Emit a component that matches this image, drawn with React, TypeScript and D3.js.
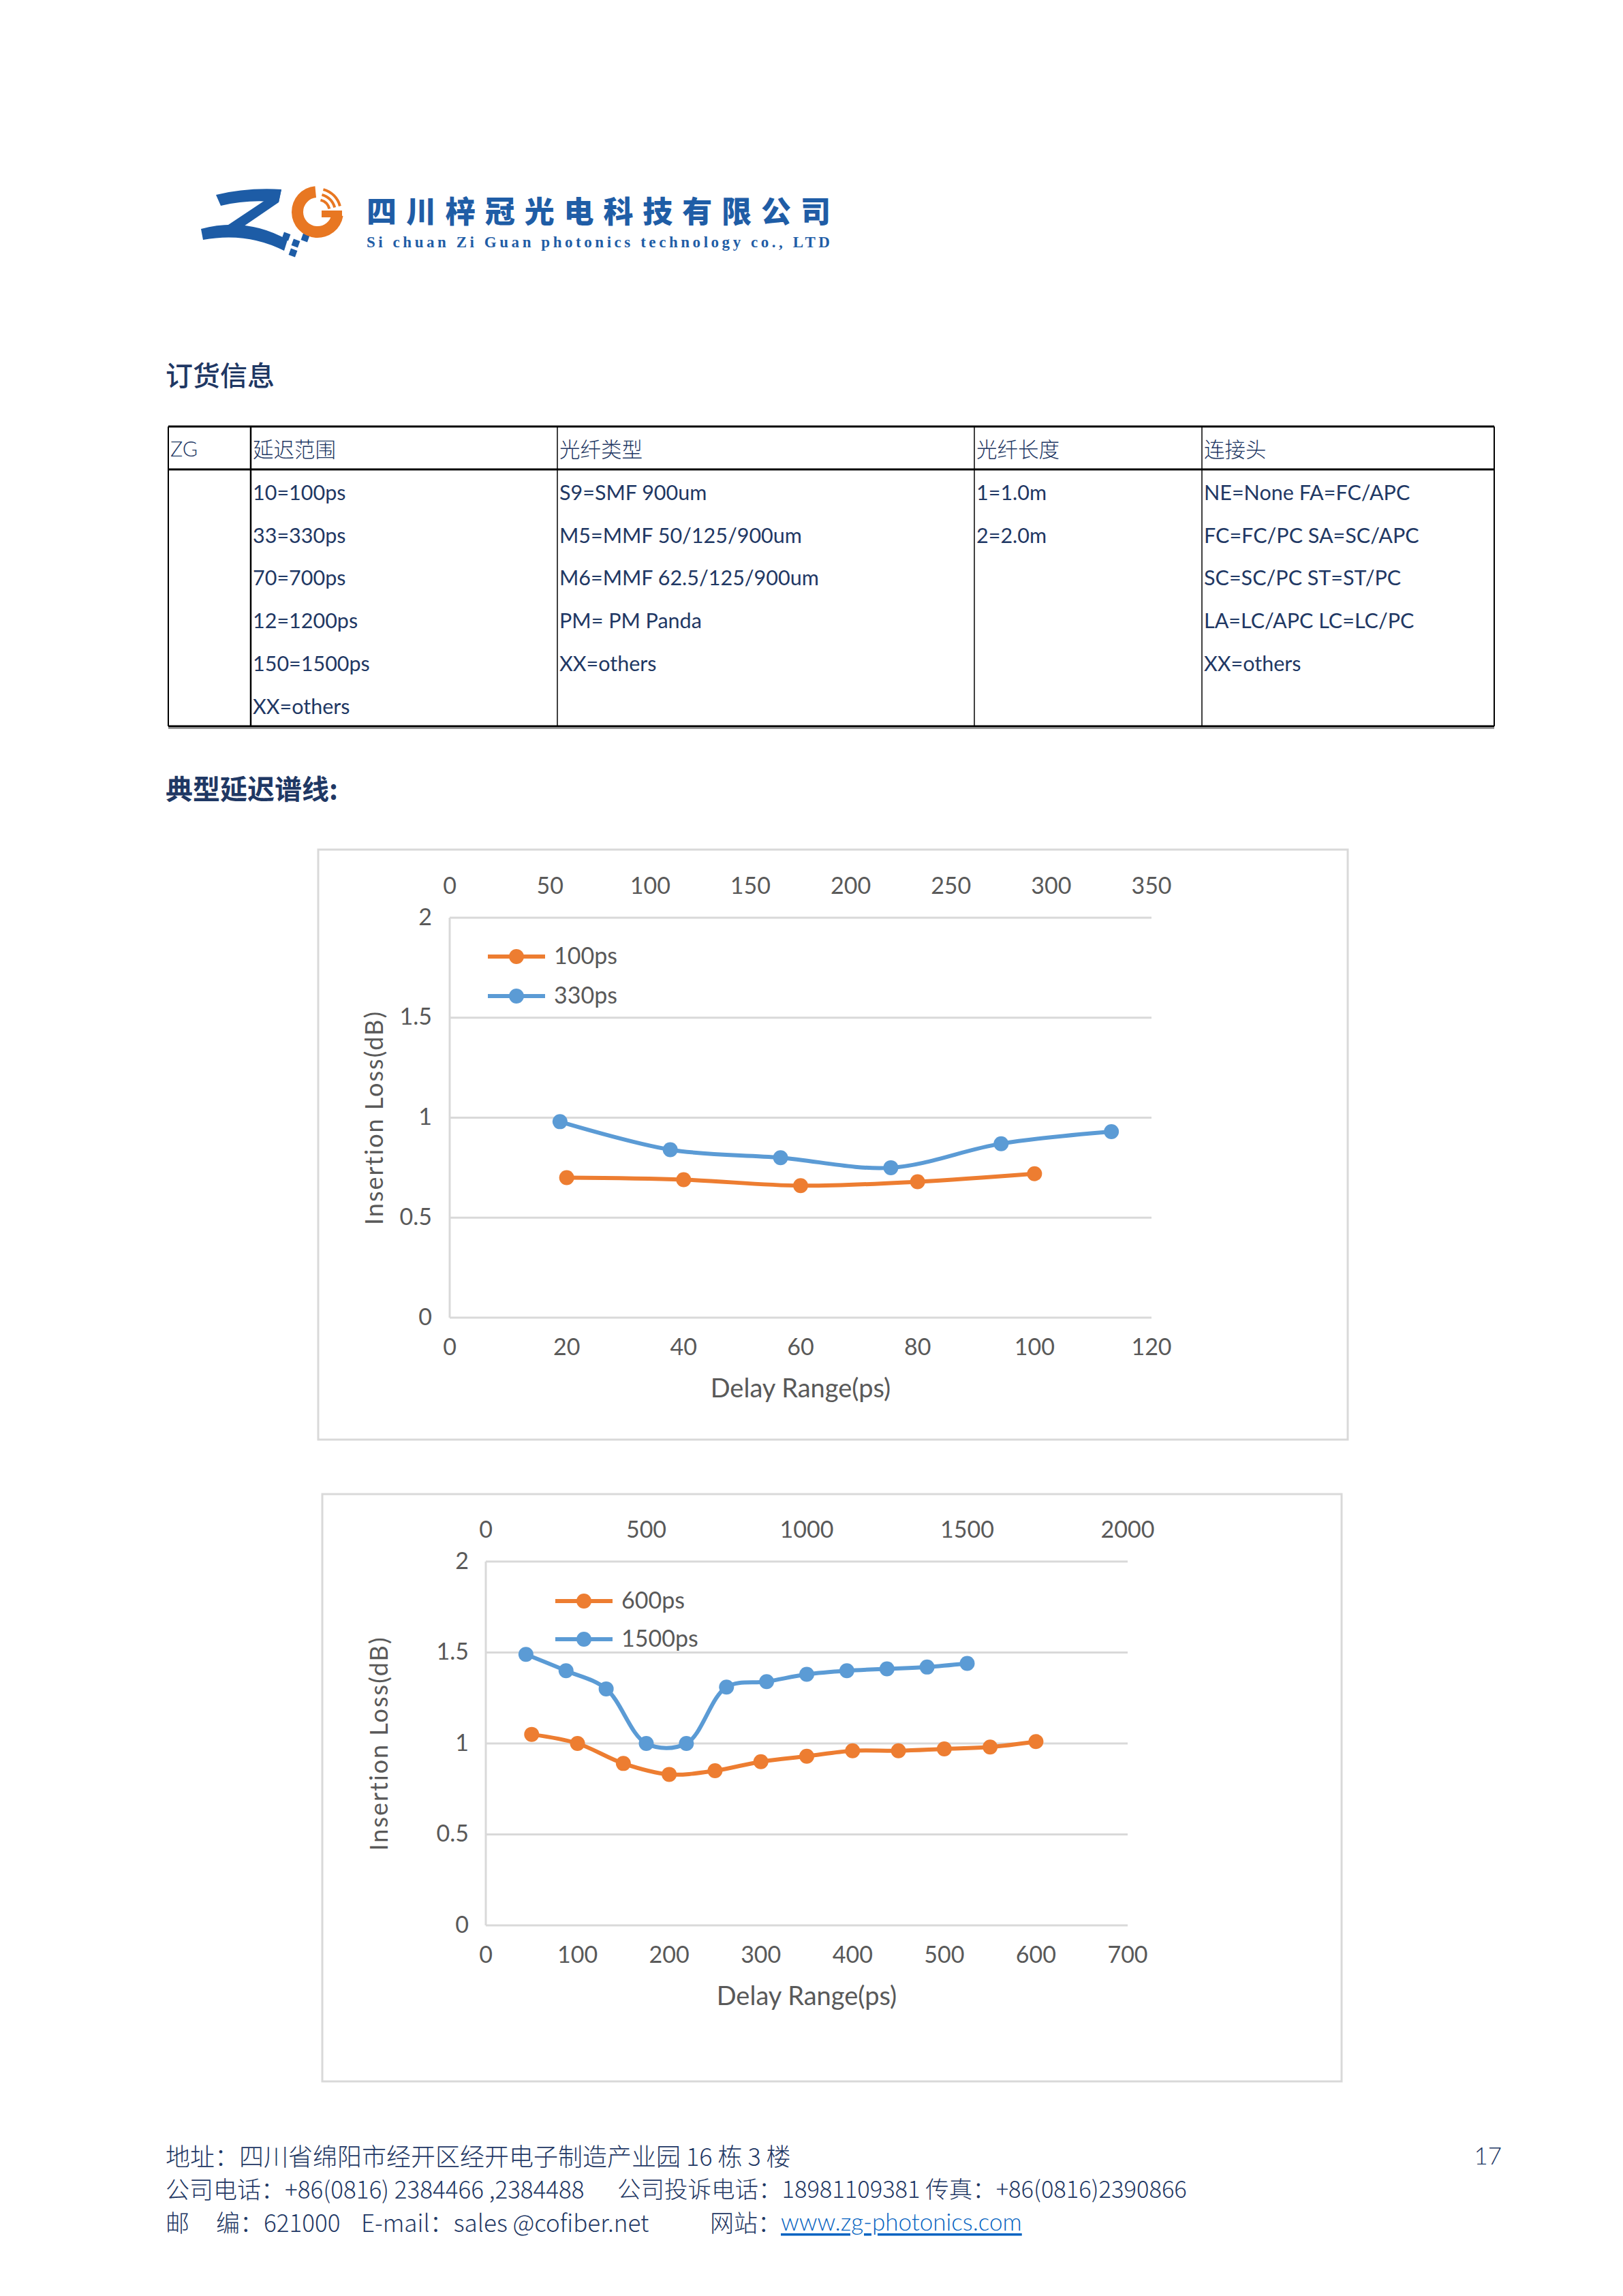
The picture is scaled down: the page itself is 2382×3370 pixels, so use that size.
import * as d3 from 'd3';

const W = 2382;
const H = 3370;

// ---- chart 1 data (bottom axis: 100ps, top axis: 330ps)
const delay100 = [20, 40, 60, 80, 100];
const loss100 = [0.7, 0.69, 0.66, 0.68, 0.72];
const delay330 = [55, 110, 165, 220, 275, 330];
const loss330 = [0.98, 0.84, 0.8, 0.75, 0.87, 0.93];
const bottomTicks1 = [0, 20, 40, 60, 80, 100, 120];
const topTicks1 = [0, 50, 100, 150, 200, 250, 300, 350];

// ---- chart 2 data (bottom axis: 600ps, top axis: 1500ps)
const delay600 = [50, 100, 150, 200, 250, 300, 350, 400, 450, 500, 550, 600];
const loss600 = [1.05, 1.0, 0.89, 0.83, 0.85, 0.9, 0.93, 0.96, 0.96, 0.97, 0.98, 1.01];
const delay1500 = [125, 250, 375, 500, 625, 750, 875, 1000, 1125, 1250, 1375, 1500];
const loss1500 = [1.49, 1.4, 1.3, 1.0, 1.0, 1.31, 1.34, 1.38, 1.4, 1.41, 1.42, 1.44];
const bottomTicks2 = [0, 100, 200, 300, 400, 500, 600, 700];
const topTicks2 = [0, 500, 1000, 1500, 2000];

const yTicks = [0, 0.5, 1, 1.5, 2];

// ---- ordering table
const tableHeader = ['ZG', '延迟范围', '光纤类型', '光纤长度', '连接头'];
const colDelay = ['10=100ps', '33=330ps', '70=700ps', '12=1200ps', '150=1500ps', 'XX=others'];
const colFiber = ['S9=SMF 900um', 'M5=MMF 50/125/900um', 'M6=MMF 62.5/125/900um', 'PM= PM Panda', 'XX=others'];
const colLength = ['1=1.0m', '2=2.0m'];
const colConn = ['NE=None FA=FC/APC', 'FC=FC/PC SA=SC/APC', 'SC=SC/PC ST=ST/PC', 'LA=LC/APC LC=LC/PC', 'XX=others'];

const ORANGE = '#ED7D31';
const BLUE = '#5B9BD5';
const GRID = '#D9D9D9';
const AXTXT = '#595959';
const NAVY = '#1F3864';
const FONT = "Lato, 'Noto Sans CJK SC', sans-serif";
const CJK = "'Noto Sans CJK SC', Lato, sans-serif";

type Series = { name: string; xs: number[]; ys: number[]; color: string; axis: 'bottom' | 'top' };

type ChartProps = {
  frame: [number, number, number, number];
  plot: { left: number; right: number; top: number; bottom: number };
  bottomTicks: number[];
  topTicks: number[];
  series: Series[];
  legend: { x1: number; x2: number; ys: number[] };
  yTitleX: number;
  yLabelGap: number;
};

function Chart({ frame, plot, bottomTicks, topTicks, series, legend, yTitleX, yLabelGap }: ChartProps) {
  const xb = d3.scaleLinear().domain([bottomTicks[0], bottomTicks[bottomTicks.length - 1]]).range([plot.left, plot.right]);
  const xt = d3.scaleLinear().domain([topTicks[0], topTicks[topTicks.length - 1]]).range([plot.left, plot.right]);
  const y = d3.scaleLinear().domain([0, 2]).range([plot.bottom, plot.top]);
  const cx = (plot.left + plot.right) / 2;
  const cy = (plot.top + plot.bottom) / 2;
  const up = 3; // Lato sits a little low with central baseline

  return (
    <g>
      <rect x={frame[0]} y={frame[1]} width={frame[2]} height={frame[3]} fill="#fff" stroke={GRID} strokeWidth={3} />
      {yTicks.map((t) => (
        <g key={t}>
          <line x1={plot.left} x2={plot.right} y1={y(t)} y2={y(t)} stroke={GRID} strokeWidth={3} />
          <text x={plot.left - yLabelGap} y={y(t) - up} textAnchor="end" dominantBaseline="central" fontSize={34} fill={AXTXT} fontFamily={FONT}>
            {d3.format('')(t)}
          </text>
        </g>
      ))}
      <line x1={plot.left} x2={plot.left} y1={plot.top} y2={plot.bottom} stroke={GRID} strokeWidth={3} />
      {bottomTicks.map((t) => (
        <text key={'b' + t} x={xb(t)} y={plot.bottom + 44 - up} textAnchor="middle" dominantBaseline="central" fontSize={34} fill={AXTXT} fontFamily={FONT}>
          {t}
        </text>
      ))}
      {topTicks.map((t) => (
        <text key={'t' + t} x={xt(t)} y={plot.top - 46 - up} textAnchor="middle" dominantBaseline="central" fontSize={34} fill={AXTXT} fontFamily={FONT}>
          {t}
        </text>
      ))}
      {series.map((s) => {
        const sx = s.axis === 'bottom' ? xb : xt;
        const pts: [number, number][] = s.xs.map((v, i) => [sx(v), y(s.ys[i])]);
        const path = d3.line().curve(d3.curveCatmullRom.alpha(0.5))(pts) || '';
        return (
          <g key={s.name}>
            <path d={path} fill="none" stroke={s.color} strokeWidth={6} strokeLinejoin="round" />
            {pts.map((p, i) => (
              <circle key={i} cx={p[0]} cy={p[1]} r={11} fill={s.color} />
            ))}
          </g>
        );
      })}
      {series.map((s, i) => (
        <g key={'lg' + s.name}>
          <line x1={legend.x1} x2={legend.x2} y1={legend.ys[i]} y2={legend.ys[i]} stroke={s.color} strokeWidth={6} />
          <circle cx={(legend.x1 + legend.x2) / 2} cy={legend.ys[i]} r={11} fill={s.color} />
          <text x={legend.x2 + 13} y={legend.ys[i] - up} dominantBaseline="central" fontSize={34} fill={AXTXT} fontFamily={FONT}>
            {s.name}
          </text>
        </g>
      ))}
      <text x={cx} y={plot.bottom + 105 - up} textAnchor="middle" dominantBaseline="central" fontSize={38} fill={AXTXT} fontFamily={FONT}>
        Delay Range(ps)
      </text>
      <text
        transform={`translate(${yTitleX},${cy}) rotate(-90)`}
        textAnchor="middle"
        dominantBaseline="central"
        fontSize={36}
        letterSpacing={2}
        fill={AXTXT}
        fontFamily={FONT}
      >
        Insertion Loss(dB)
      </text>
    </g>
  );
}

function Logo() {
  const ring = d3.arc()({ innerRadius: 21, outerRadius: 38, startAngle: Math.PI * 0.55, endAngle: Math.PI * 1.97 } as any) || '';
  const stripes = [0, 1, 2].map(
    (i) => d3.arc()({ innerRadius: 16 + i * 8, outerRadius: 20 + i * 8, startAngle: Math.PI * 0.08, endAngle: Math.PI * 0.42 } as any) || ''
  );
  const squares = [
    [420, 347],
    [434, 357],
    [448, 349],
    [430, 371],
  ];
  return (
    <g>
      <path d="M317,286 Q362,275 413,278 L409,297 Q366,292 324,302 Z" fill="#1D5CA6" />
      <path d="M413,278 L409,297 L352,336 L326,336 Z" fill="#1D5CA6" />
      <path d="M295,336 Q362,318 422,352 L417,368 Q362,340 298,352 Z" fill="#1D5CA6" />
      {squares.map((s, i) => (
        <rect key={i} x={s[0] - 5} y={s[1] - 5} width={10} height={10} fill="#1D5CA6" transform={`rotate(20,${s[0]},${s[1]})`} />
      ))}
      <g transform="translate(466,311)">
        <path d={ring} fill="#E87722" />
        {stripes.map((d, i) => (
          <path key={i} d={d} fill="#E87722" />
        ))}
        <rect x={6} y={-2} width={30} height={10} fill="#E87722" />
      </g>
      <text x={538} y={308} dominantBaseline="central" fontSize={44} fontWeight={900} fill="#1F5DA6" fontFamily={CJK} textLength={681} lengthAdjust="spacing">
        四川梓冠光电科技有限公司
      </text>
      <text x={538} y={355} dominantBaseline="central" fontSize={23} fontWeight={700} fill="#1F5DA6" fontFamily="'Liberation Serif', serif" textLength={680} lengthAdjust="spacing">
        Si chuan Zi Guan photonics technology co., LTD
      </text>
    </g>
  );
}

function OrderTable() {
  const left = 247;
  const right = 2193;
  const top = 626;
  const headBottom = 689;
  const bottom = 1066;
  const cols = [247, 368, 818, 1430, 1764];
  const rowY = [722, 785, 847, 910, 973, 1036];
  const body = [[], colDelay, colFiber, colLength, colConn];
  return (
    <g fontFamily={FONT} fill={NAVY} fontSize={30.5}>
      {tableHeader.map((h, i) => (
        <text key={h} x={cols[i] + 3} y={658} dominantBaseline="central" fontWeight={300} fontFamily={i === 0 ? FONT : CJK}>
          {h}
        </text>
      ))}
      {body.map((col, ci) =>
        col.map((v, ri) => (
          <text key={ci + '-' + ri} x={cols[ci] + 3} y={rowY[ri]} dominantBaseline="central">
            {v}
          </text>
        ))
      )}
      <line x1={left} x2={right} y1={top} y2={top} stroke="#000" strokeWidth={3} />
      <line x1={left} x2={right} y1={headBottom} y2={headBottom} stroke="#000" strokeWidth={3} />
      <line x1={left} x2={right} y1={bottom} y2={bottom} stroke="#000" strokeWidth={3} />
      <line x1={left} x2={right} y1={bottom + 3} y2={bottom + 3} stroke="#999" strokeWidth={2} />
      {cols.slice(1).map((c, i) => (
        <line key={c} x1={c} x2={c} y1={top} y2={bottom} stroke="#000" strokeWidth={i === 0 ? 2.5 : 1.5} />
      ))}
      <line x1={left} x2={left} y1={top} y2={bottom} stroke="#000" strokeWidth={2} />
      <line x1={right} x2={right} y1={top} y2={bottom} stroke="#000" strokeWidth={2} />
    </g>
  );
}

function Footer() {
  const fs = 35;
  return (
    <g fontFamily={CJK} fontSize={fs} fill={NAVY} fontWeight={300}>
      <text x={243} y={3163} dominantBaseline="central" fontSize={36}>
        地址：四川省绵阳市经开区经开电子制造产业园 16 栋 3 楼
      </text>
      <text x={2204} y={3163} textAnchor="end" dominantBaseline="central" fontFamily={FONT}>
        17
      </text>
      <text x={243} y={3211} dominantBaseline="central">
        公司电话：+86(0816) 2384466 ,2384488
      </text>
      <text x={906} y={3211} dominantBaseline="central" fontSize={34.5}>
        公司投诉电话：18981109381 传真：+86(0816)2390866
      </text>
      <text x={243} y={3260} dominantBaseline="central">邮</text>
      <text x={317} y={3260} dominantBaseline="central">编：621000</text>
      <text x={530} y={3260} dominantBaseline="central">E-mail：sales @cofiber.net</text>
      <text x={1042} y={3260} dominantBaseline="central">网站：</text>
      <text x={1146} y={3260} dominantBaseline="central" fill="#0563C1" textDecoration="underline" fontFamily={FONT}>
        www.zg-photonics.com
      </text>
    </g>
  );
}

export default function App() {
  return (
    <svg width={W} height={H} viewBox={`0 0 ${W} ${H}`} style={{ position: 'absolute', left: 0, top: 0, background: '#fff' }}>
      <rect width={W} height={H} fill="#fff" />
      <Logo />
      <text x={243} y={549} dominantBaseline="central" fontSize={40} fontWeight={500} fill={NAVY} fontFamily={CJK}>
        订货信息
      </text>
      <OrderTable />
      <text x={243} y={1156} dominantBaseline="central" fontSize={40} fontWeight={700} fill={NAVY} fontFamily={CJK}>
        典型延迟谱线:
      </text>
      <Chart
        frame={[467, 1247, 1511, 866]}
        plot={{ left: 660, right: 1690, top: 1347, bottom: 1934 }}
        bottomTicks={bottomTicks1}
        topTicks={topTicks1}
        series={[
          { name: '100ps', xs: delay100, ys: loss100, color: ORANGE, axis: 'bottom' },
          { name: '330ps', xs: delay330, ys: loss330, color: BLUE, axis: 'top' },
        ]}
        legend={{ x1: 716, x2: 800, ys: [1404, 1462] }}
        yTitleX={548}
        yLabelGap={26}
      />
      <Chart
        frame={[473, 2193, 1496, 862]}
        plot={{ left: 713, right: 1655, top: 2292, bottom: 2826 }}
        bottomTicks={bottomTicks2}
        topTicks={topTicks2}
        series={[
          { name: '600ps', xs: delay600, ys: loss600, color: ORANGE, axis: 'bottom' },
          { name: '1500ps', xs: delay1500, ys: loss1500, color: BLUE, axis: 'top' },
        ]}
        legend={{ x1: 815, x2: 899, ys: [2350, 2406] }}
        yTitleX={555}
        yLabelGap={25}
      />
      <Footer />
    </svg>
  );
}
